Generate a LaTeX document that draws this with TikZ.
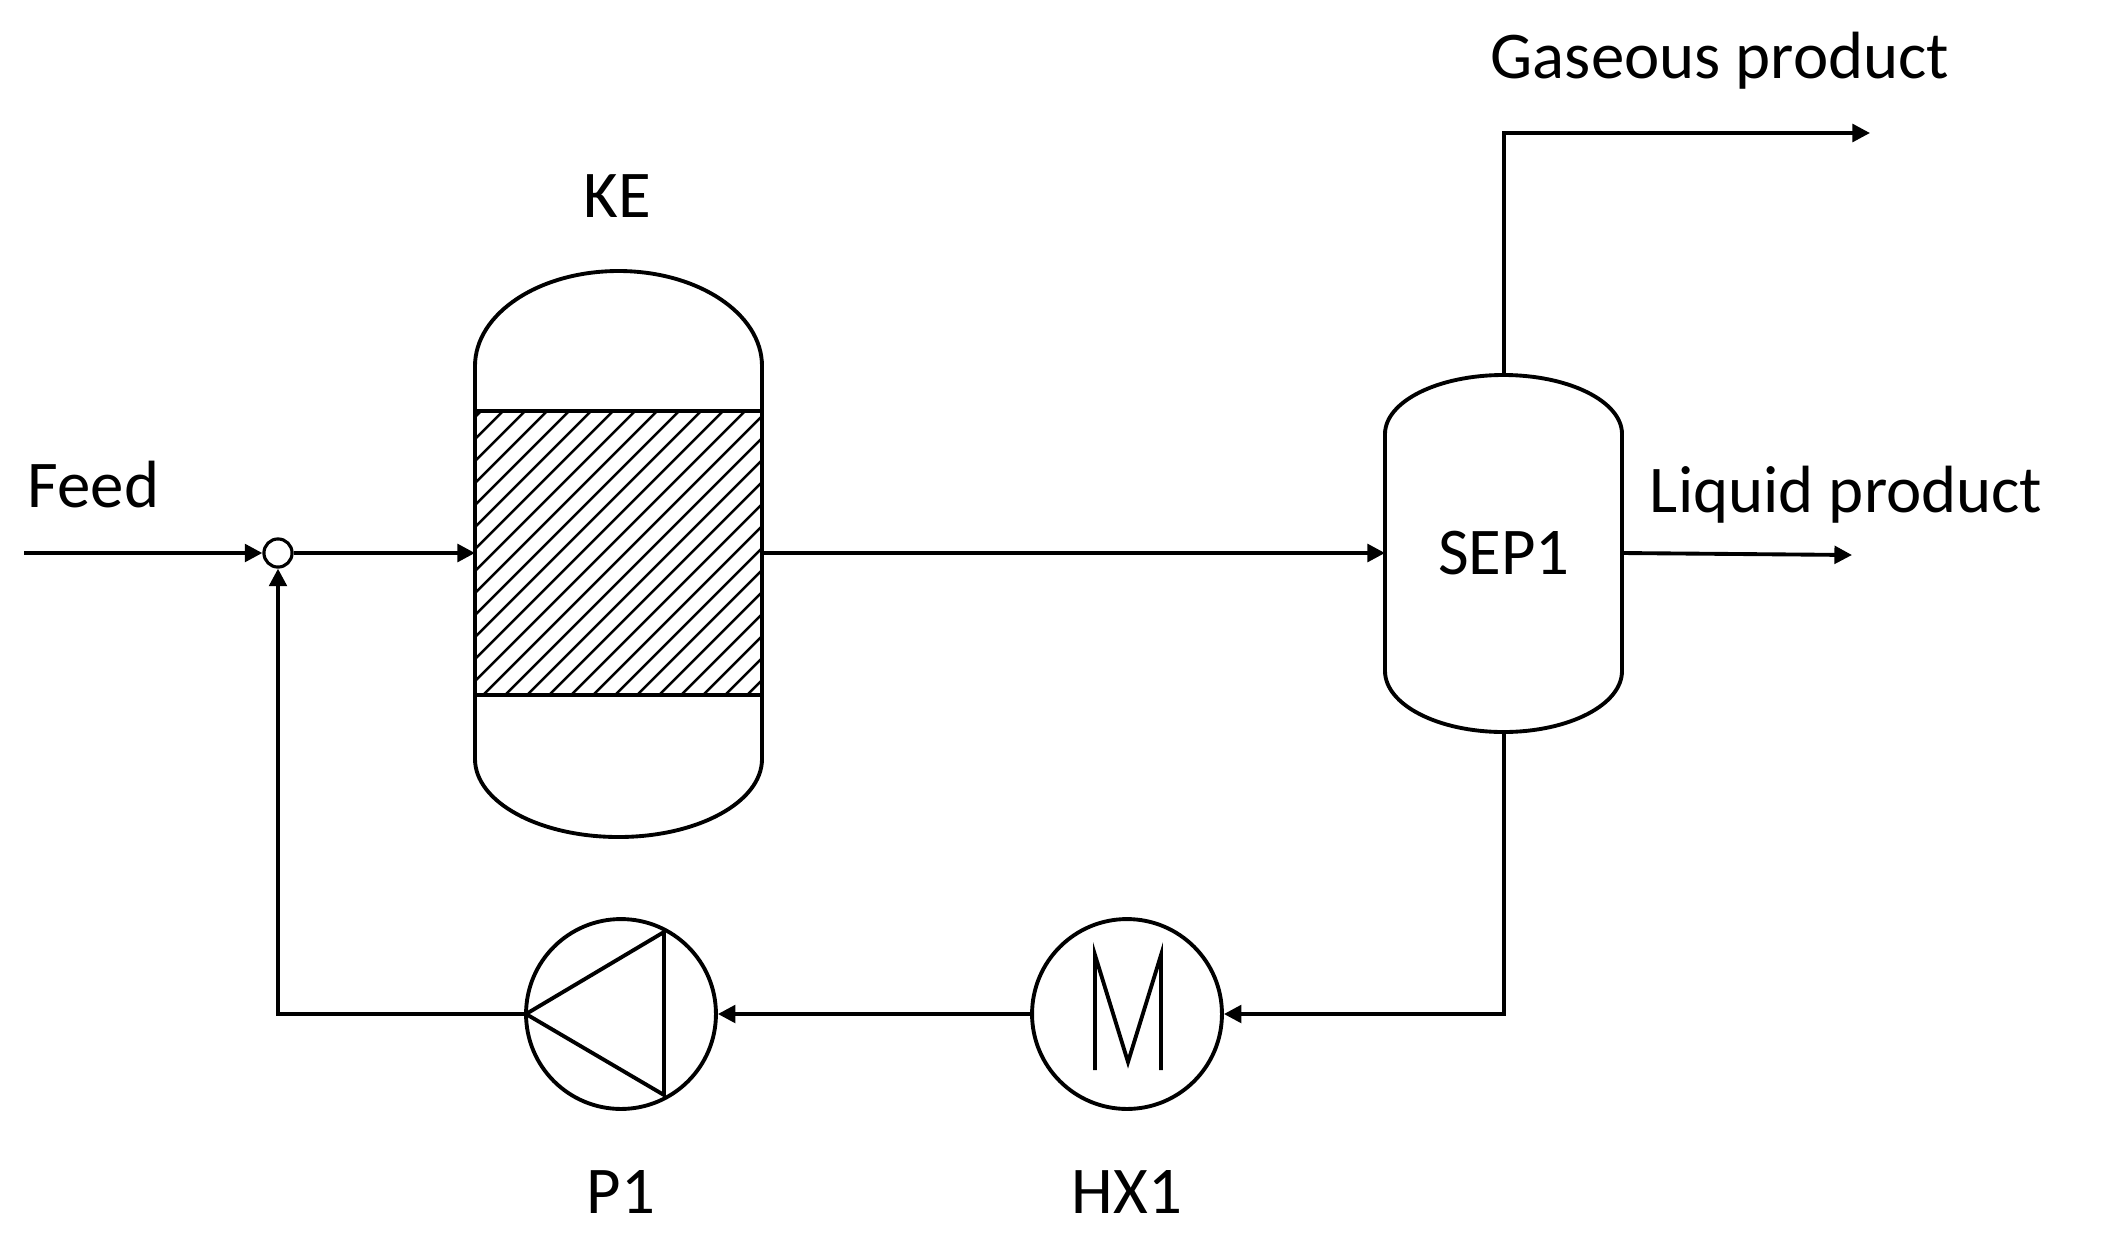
\documentclass[tikz,border=0pt]{standalone}
\usepackage{fontspec}
\setmainfont{Carlito}
\usetikzlibrary{arrows.meta}
\begin{document}
\begin{tikzpicture}[x=0.01cm,y=-0.01cm,line width=1.1pt,
  arr/.style={-{Triangle[length=5pt,width=5pt]}},
  lbl/.style={font=\fontsize{19}{22}\selectfont,inner sep=0}]
\useasboundingbox (0,0) rectangle (2124,1248);
% reactor
\coordinate (rl) at (475,553);
\coordinate (rr) at (762,553);
\draw (475,366) arc[start angle=180,end angle=360,x radius=143.5,y radius=95] -- (762,759)
  arc[start angle=0,end angle=180,x radius=143.5,y radius=78] -- cycle;
\begin{scope}
\clip (475,411) rectangle (762,695);
\foreach \i in {0,...,26}{\draw[line width=0.7pt] (155+\i*22,715) -- ++(320,-320);}
\end{scope}
\draw (475,411) rectangle (762,695);
\node[lbl] (ke) at (617,196) {KE};
% mixer
\node[circle,draw,minimum size=8pt,inner sep=0,line width=0.9pt] (mx) at (278,553) {};
\coordinate (feed) at (24,553);
\node[lbl,anchor=west] at (26,485) {Feed};
\draw[arr] (feed) -- (mx.west);
\draw[arr] (mx.east) -- (rl);
% separator
\draw (1385,434) arc[start angle=180,end angle=360,x radius=118.5,y radius=59] -- (1622,671)
  arc[start angle=0,end angle=180,x radius=118.5,y radius=61] -- cycle;
\node[lbl] (sep) at (1504,553) {SEP1};
\coordinate (sl) at (1385,553);
\coordinate (sr) at (1622,553);
\coordinate (st) at (1504,375);
\coordinate (sb) at (1504,732);
\draw[arr] (rr) -- (sl);
\coordinate (g1) at (1504,133);
\coordinate (g2) at (1870,133);
\draw[arr] (st) -- (g1) -- (g2);
\node[lbl] at (1720,61) {Gaseous product};
\coordinate (l2) at (1852,555);
\draw[arr] (sr) -- (l2);
\node[lbl,anchor=west] at (1648,495) {Liquid product};
% HX1
\node[circle,draw,minimum size=54pt,inner sep=0] (hx) at (1127,1014) {};
\draw (1095,1070) -- (1095,955) -- (1128,1062) -- (1161,955) -- (1161,1070);
\node[lbl] at (1127,1192) {HX1};
\coordinate (c1) at (1504,1014);
\draw[arr] (sb) -- (c1) -- (hx.east);
% pump
\node[circle,draw,minimum size=54pt,inner sep=0] (p) at (621,1014) {};
\draw (664,932) -- (526,1014) -- (664,1095) -- cycle;
\node[lbl] at (621,1192) {P1};
\draw[arr] (hx.west) -- (p.east);
\coordinate (c2) at (278,1014);
\draw[arr] (p.west) -- (c2) -- (mx.south);
\end{tikzpicture}
\end{document}
